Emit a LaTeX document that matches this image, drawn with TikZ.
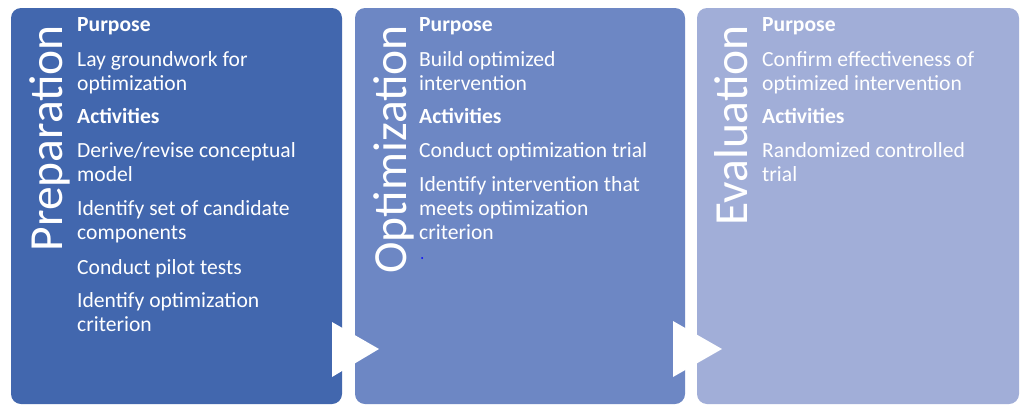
\documentclass[tikz,border=0pt]{standalone}
\usepackage{fontspec}
\setmainfont{Carlito}
\begin{document}
\begin{tikzpicture}[x=1pt,y=-1pt,
  phase/.style={rounded corners=10pt},
  title/.style={rotate=90,anchor=base east,inner sep=0pt,text=white,
    font=\fontsize{47.5}{56}\selectfont},
  head/.style={anchor=base west,inner sep=0pt,text=white,
    font=\fontsize{21.6}{24}\selectfont\bfseries},
  body/.style={anchor=base west,inner sep=0pt,text=white,
    font=\fontsize{21.6}{24}\selectfont},
  chevron/.style={fill=white}]
\definecolor{prepblue}{HTML}{4267AE}
\definecolor{optblue}{HTML}{6D87C4}
\definecolor{evalblue}{HTML}{A1AED8}
\useasboundingbox[fill=white] (0,0) rectangle (1020,407);

% phase panels
\fill[phase,prepblue] (11,8) rectangle (342,404);
\fill[phase,optblue] (355,8) rectangle (685,404);
\fill[phase,evalblue] (697,8) rectangle (1019,404);

% arrows between phases
\fill[chevron] (332,322) -- (379,349) -- (332,377) -- cycle;
\fill[chevron] (673,321) -- (722,349) -- (673,377) -- cycle;

% Preparation
\node[title] (t1) at (62,25) {Preparation};
\node[head] (a1) at (77,31) {Purpose};
\node[body] (a2) at (77,66) {Lay groundwork for};
\node[body] (a3) at (77,90) {optimization};
\node[head] (a4) at (77,123) {Activities};
\node[body] (a5) at (77,157) {Derive/revise conceptual};
\node[body] (a6) at (77,181) {model};
\node[body] (a7) at (77,215) {Identify set of candidate};
\node[body] (a8) at (77,239) {components};
\node[body] (a9) at (77,274) {Conduct pilot tests};
\node[body] (a10) at (77,307) {Identify optimization};
\node[body] (a11) at (77,331) {criterion};

% Optimization
\node[title] (t2) at (406,25) {Optimization};
\node[head] (b1) at (419,31) {Purpose};
\node[body] (b2) at (419,66) {Build optimized};
\node[body] (b3) at (419,90) {intervention};
\node[head] (b4) at (419,123) {Activities};
\node[body] (b5) at (419,157) {Conduct optimization trial};
\node[body] (b6) at (419,191) {Identify intervention that};
\node[body] (b7) at (419,215) {meets optimization};
\node[body] (b8) at (419,239) {criterion};
\fill[blue] (422,258) circle (1pt);

% Evaluation
\node[title] (t3) at (747,25) {Evaluation};
\node[head] (c1) at (762,31) {Purpose};
\node[body] (c2) at (762,66) {Confirm effectiveness of};
\node[body] (c3) at (762,90) {optimized intervention};
\node[head] (c4) at (762,123) {Activities};
\node[body] (c5) at (762,157) {Randomized controlled};
\node[body] (c6) at (762,181) {trial};
\end{tikzpicture}
\end{document}
